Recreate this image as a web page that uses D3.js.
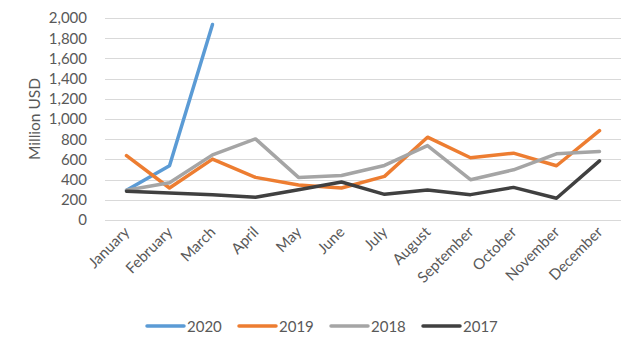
<!DOCTYPE html>
<html>
<head>
<meta charset="utf-8">
<script src="https://cdn.jsdelivr.net/npm/d3@7"></script>
<style>
  body { margin: 0; background: #fff; }
  text { font-family: Lato, "Open Sans", sans-serif; fill: #595959; }
</style>
</head>
<body>
<div id="chart"></div>
<script>
var months = ['January', 'February', 'March', 'April', 'May', 'June', 'July', 'August', 'September', 'October', 'November', 'December'];
var years = ['2020', '2019', '2018', '2017'];
var v2020 = [294, 537, 1936];
var v2019 = [638, 317, 603, 422, 347, 317, 432, 820, 616, 662, 537, 885];
var v2018 = [294, 369, 645, 803, 422, 441, 540, 737, 399, 497, 655, 678];
var v2017 = [284, 268, 251, 225, 300, 376, 254, 297, 251, 323, 215, 586];
var yTicks = [0, 200, 400, 600, 800, 1000, 1200, 1400, 1600, 1800, 2000];
var colors = ['#5B9BD5', '#ED7D31', '#A5A5A5', '#404040'];

var seriesList = [v2020, v2019, v2018, v2017];

var w = 640, h = 353;
var padding = { top: 18, right: 19, bottom: 133, left: 105 };
var chartArea = { width: w - padding.left - padding.right, height: h - padding.top - padding.bottom };

var svg = d3.select('#chart').append('svg')
  .attr('width', w)
  .attr('height', h);

var xScale = d3.scaleBand().domain(months).range([0, chartArea.width]);
var yScale = d3.scaleLinear().domain([0, 2000]).range([chartArea.height, 0]);

var g = svg.append('g').attr('transform', 'translate(' + padding.left + ',' + padding.top + ')');

// gridlines
g.selectAll('line.grid').data(yTicks).enter()
  .append('line')
  .attr('class', 'grid')
  .attr('x1', 0).attr('x2', chartArea.width)
  .attr('y1', function (d) { return Math.round(yScale(d)) + 0.5; })
  .attr('y2', function (d) { return Math.round(yScale(d)) + 0.5; })
  .attr('stroke', '#d9d9d9')
  .attr('stroke-width', 1);

// y axis
var yAxis = g.append('g').call(d3.axisLeft(yScale).tickValues(yTicks).tickSize(0).tickPadding(18).tickFormat(d3.format(',')));
yAxis.select('.domain').remove();
yAxis.selectAll('text').style('font-size', '15px').style('fill', '#595959');

// x axis
var xAxis = g.append('g').attr('transform', 'translate(0,' + chartArea.height + ')')
  .call(d3.axisBottom(xScale).tickSize(0).tickPadding(0));
xAxis.select('.domain').remove();
xAxis.selectAll('text')
  .style('font-size', '15px')
  .style('fill', '#595959')
  .attr('text-anchor', 'end')
  .attr('dy', 0)
  .attr('transform', 'translate(4,13) rotate(-45)');

// axis title
svg.append('text')
  .attr('transform', 'translate(40,' + (padding.top + chartArea.height / 2) + ') rotate(-90)')
  .attr('text-anchor', 'middle')
  .style('font-size', '15.5px')
  .text('Million USD');

var line = d3.line()
  .x(function (d, i) { return xScale(months[i]) + xScale.bandwidth() / 2; })
  .y(function (d) { return yScale(d); });

g.selectAll('path.series').data(seriesList).enter()
  .append('path')
  .attr('class', 'series')
  .attr('d', function (d) { return line(d); })
  .attr('fill', 'none')
  .attr('stroke', function (d, i) { return colors[i]; })
  .attr('stroke-width', 3.5)
  .attr('stroke-linejoin', 'round')
  .attr('stroke-linecap', 'round');

// legend
var legendX = [147, 239, 331, 423];
var leg = svg.append('g').selectAll('g').data(years).enter()
  .append('g')
  .attr('transform', function (d, i) { return 'translate(' + legendX[i] + ',326)'; });
leg.append('line')
  .attr('x1', 0).attr('x2', 37)
  .attr('stroke', function (d, i) { return colors[i]; })
  .attr('stroke-width', 3.5)
  .attr('stroke-linecap', 'round');
leg.append('text')
  .attr('x', 40).attr('y', 5.5)
  .style('font-size', '15px')
  .text(function (d) { return d; });
</script>
</body>
</html>
